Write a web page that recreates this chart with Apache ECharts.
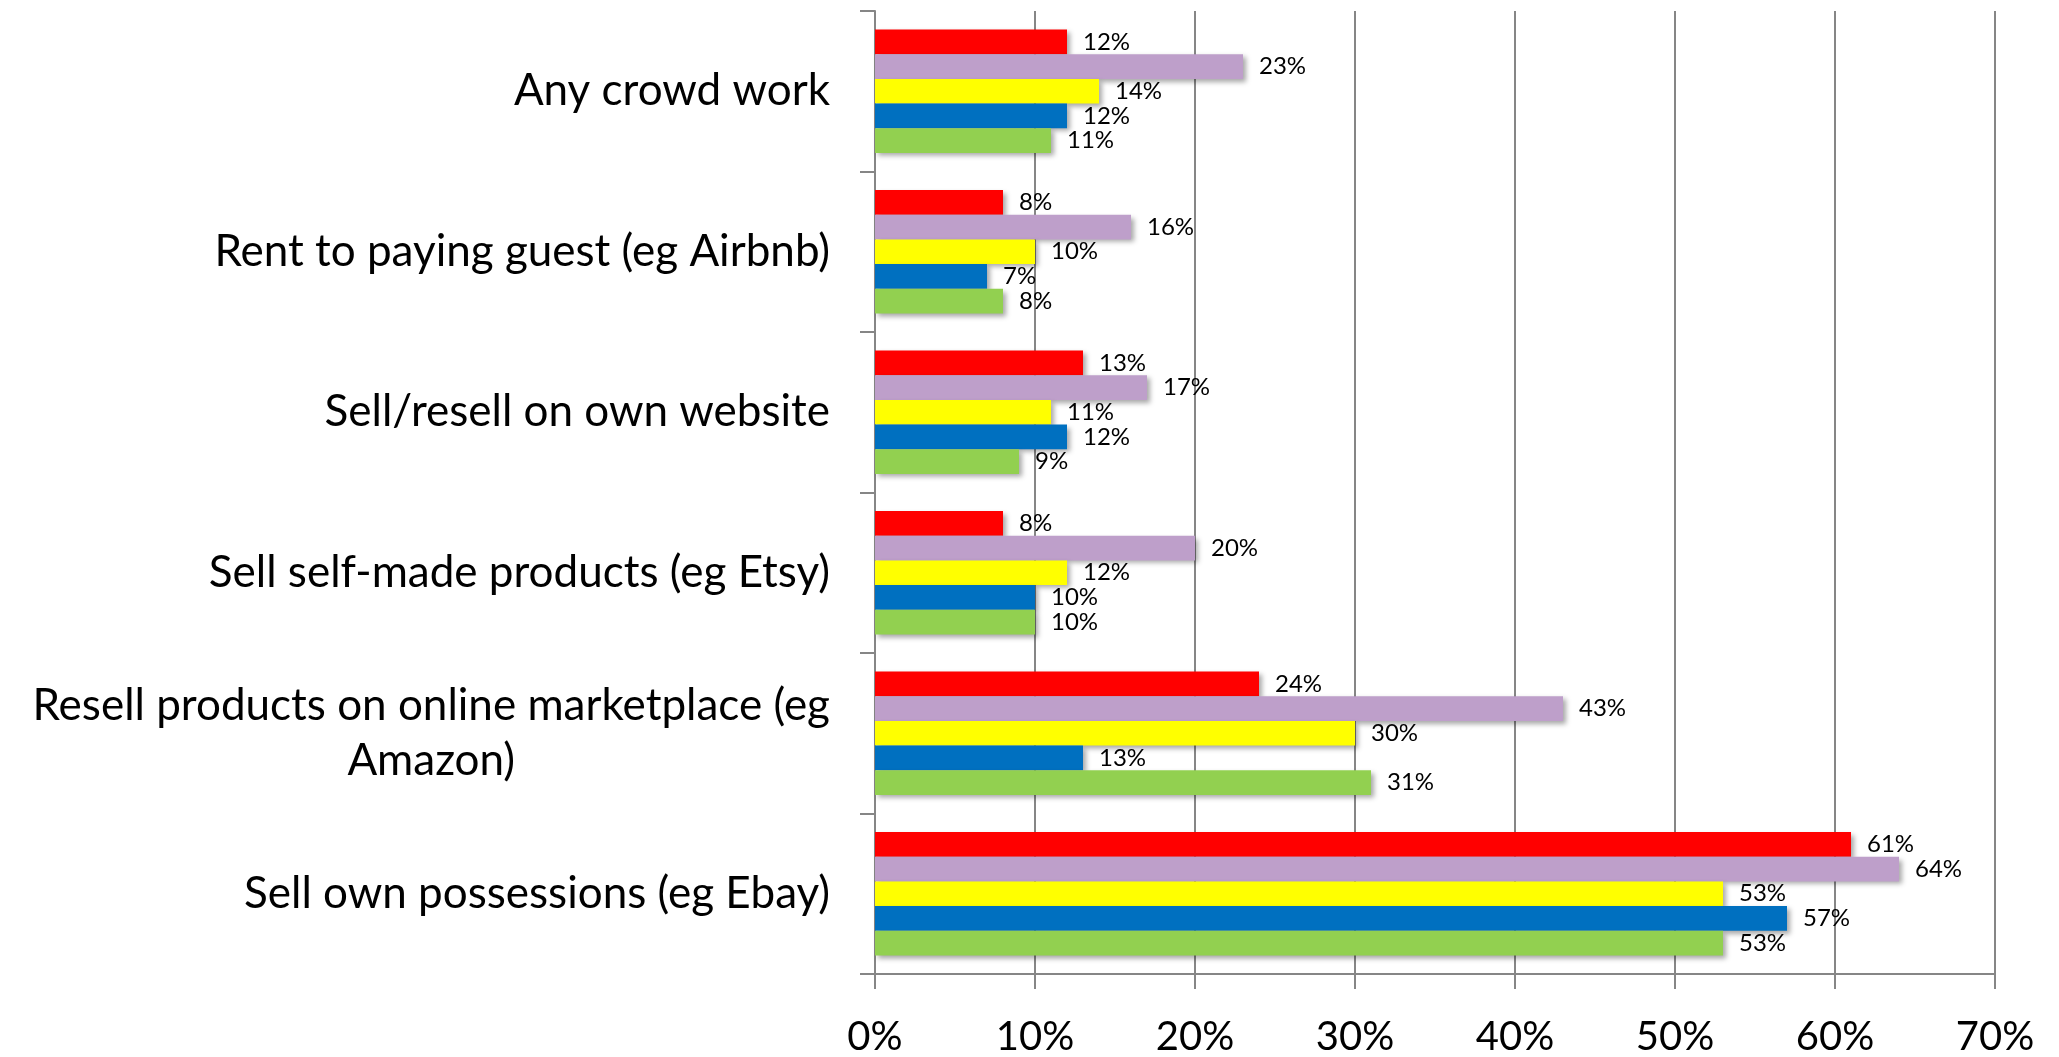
<!DOCTYPE html>
<html>
<head>
<meta charset="utf-8">
<script src="https://cdn.jsdelivr.net/npm/echarts@6/dist/echarts.min.js"></script>
<style>
  html, body { margin: 0; padding: 0; background: #fff; }
  #main { width: 2059px; height: 1057px; }
</style>
</head>
<body>
<div id="main"></div>
<script>
// categories, top to bottom
var categories = [
  "Any crowd work",
  "Rent to paying guest (eg Airbnb)",
  "Sell/resell on own website",
  "Sell self-made products (eg Etsy)",
  "Resell products on online marketplace (eg\nAmazon)",
  "Sell own possessions (eg Ebay)"
];
var redValues    = [12, 8, 13, 8, 24, 61];
var purpleValues = [23, 16, 17, 20, 43, 64];
var yellowValues = [14, 10, 11, 12, 30, 53];
var blueValues   = [12, 7, 12, 10, 13, 57];
var greenValues  = [11, 8, 9, 10, 31, 53];
var xTicks = [0, 10, 20, 30, 40, 50, 60, 70];

var chart = echarts.init(document.getElementById("main"));

function makeSeries(data, color) {
  return {
    type: "bar",
    data: data,
    barGap: "0%",
    barCategoryGap: "23%",
    itemStyle: {
      color: color,
      shadowColor: "rgba(0,0,0,0.35)",
      shadowBlur: 5,
      shadowOffsetX: 3,
      shadowOffsetY: 3
    },
    label: {
      show: true,
      position: "right",
      distance: 16,
      formatter: "{c}%",
      color: "#000",
      fontFamily: "Lato",
      fontSize: 24
    }
  };
}

var option = {
  animation: false,
  grid: {
    left: 875,
    right: 64,
    top: 11,
    bottom: 80,
    containLabel: false
  },
  xAxis: {
    type: "value",
    min: xTicks[0],
    max: xTicks[xTicks.length - 1],
    interval: 10,
    axisLine: { show: true, lineStyle: { color: "#868686", width: 2 } },
    axisTick: { show: true, length: 15, lineStyle: { color: "#868686", width: 2 } },
    splitLine: { show: true, lineStyle: { color: "#868686", width: 2 } },
    axisLabel: {
      margin: 43,
      color: "#000",
      fontFamily: "Lato",
      fontSize: 40,
      formatter: "{value}%"
    }
  },
  yAxis: {
    type: "category",
    inverse: true,
    data: categories,
    axisLine: { show: true, lineStyle: { color: "#868686", width: 2 } },
    axisTick: { show: true, length: 15, lineStyle: { color: "#868686", width: 2 } },
    splitLine: { show: false },
    axisLabel: {
      margin: 45,
      interval: 0,
      align: "right",
      formatter: function (v) {
        return v.split("\n").map(function (s) { return "{c|" + s + "}"; }).join("\n");
      },
      rich: {
        c: {
          align: "center",
          color: "#000",
          fontFamily: "Lato",
          fontSize: 44,
          lineHeight: 55
        }
      }
    }
  },
  series: [
    makeSeries(redValues, "#FF0000"),
    makeSeries(purpleValues, "#BE9FCA"),
    makeSeries(yellowValues, "#FFFF00"),
    makeSeries(blueValues, "#0070C0"),
    makeSeries(greenValues, "#92D050")
  ]
};

chart.setOption(option);
</script>
</body>
</html>
